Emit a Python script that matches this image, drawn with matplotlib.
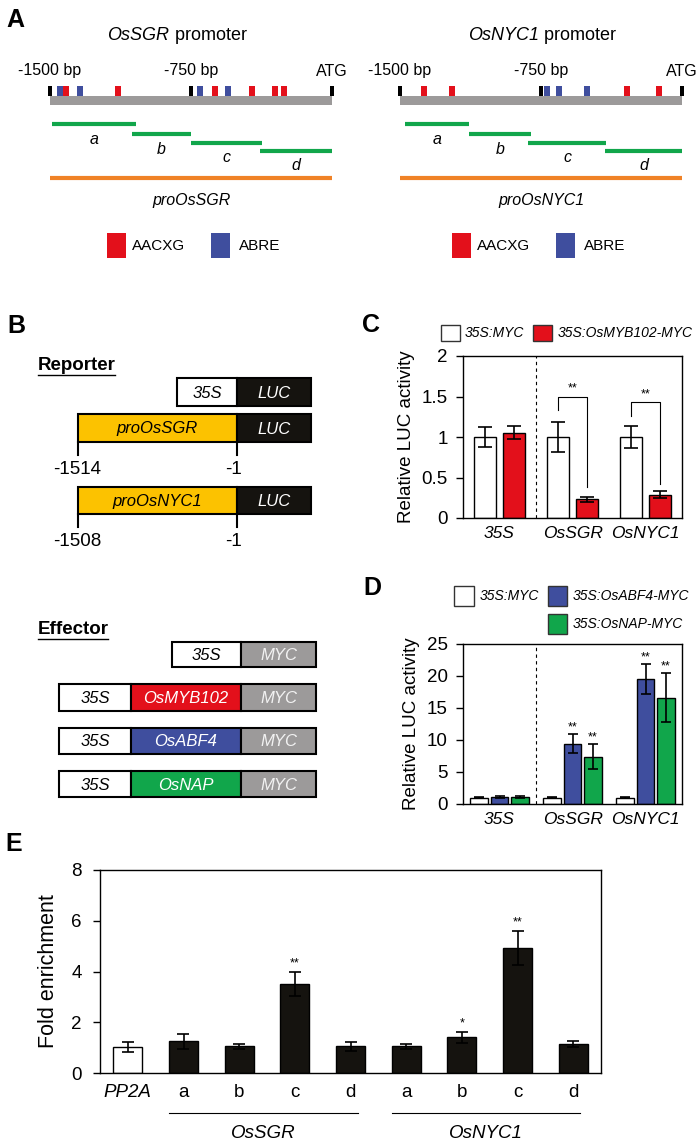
import matplotlib.pyplot as plt
from matplotlib.patches import Rectangle
from matplotlib.transforms import blended_transform_factory

plt.rcParams['font.family'] = ['Liberation Sans', 'DejaVu Sans']

# ---- data ----
# panel A: motif positions (bp upstream of ATG) and ChIP fragments
sgr_aacxg = [-1415, -1138, -622, -426, -303, -255]
sgr_abre = [-1449, -1338, -702, -553]
nyc_aacxg = [-1374, -1222, -293, -122]
nyc_abre = [-716, -654, -505]
sgr_frags = [(-1489, -1043), (-1064, -750), (-750, -372), (-383, 0)]
nyc_frags = [(-1473, -1133), (-1133, -803), (-819, -404), (-410, 0)]
frag_names = ['a', 'b', 'c', 'd']

# panel C
c_groups = ['35S', 'OsSGR', 'OsNYC1']
c_myc = [1.0, 1.0, 1.0]
c_myc_err = [0.12, 0.19, 0.13]
c_myb = [1.05, 0.23, 0.29]
c_myb_err = [0.08, 0.035, 0.04]

# panel D
d_groups = ['35S', 'OsSGR', 'OsNYC1']
d_myc = [1.0, 1.0, 1.0]
d_myc_err = [0.12, 0.12, 0.12]
d_abf4 = [1.1, 9.4, 19.5]
d_abf4_err = [0.2, 1.5, 2.3]
d_nap = [1.1, 7.4, 16.6]
d_nap_err = [0.2, 2.0, 3.8]

# panel E
e_labels = ['PP2A', 'a', 'b', 'c', 'd', 'a', 'b', 'c', 'd']
e_vals = [1.03, 1.25, 1.05, 3.5, 1.05, 1.05, 1.4, 4.91, 1.14]
e_err = [0.2, 0.29, 0.1, 0.47, 0.18, 0.1, 0.2, 0.67, 0.13]
e_stars = ['', '', '', '**', '', '', '*', '**', '']

RED = '#E3101B'
BLUE = '#3F4E9E'
GREEN = '#11A64B'
ORANGE = '#F08226'
GRAY = '#9C9A9A'
YELLOW = '#FCC200'
BLACK = '#15130F'

W, H = 700, 1145
fig = plt.figure(figsize=(W / 100, H / 100), dpi=100)
renderer = fig.canvas.get_renderer()


def px_axes(l, t, r, b):
    return fig.add_axes([l / W, 1 - b / H, (r - l) / W, (b - t) / H])


ov = px_axes(0, 0, W, H)
ov.set_xlim(0, W)
ov.set_ylim(H, 0)
ov.axis('off')

# panel letters
for lab, x, y in [('A', 15, 20), ('B', 16, 326), ('C', 371, 325), ('D', 372, 588), ('E', 14, 844)]:
    ov.text(x, y, lab, fontsize=18, fontweight='bold', ha='center', va='center')


def mixed_title(cx, y, ital, rest, size):
    t1 = ov.text(0, y, ital, style='italic', fontsize=size, va='center')
    t2 = ov.text(0, y, rest, fontsize=size, va='center')
    w1 = t1.get_window_extent(renderer).width
    w2 = t2.get_window_extent(renderer).width
    x0 = cx - (w1 + w2) / 2
    t1.set_x(x0)
    t2.set_x(x0 + w1)


# ---- panel A ----
def promoter(x0, x1, name, aacxg, abre, frags):
    ax = px_axes(x0, 60, x1, 215)
    ax.set_xlim(-1500, 0)
    ax.set_ylim(215, 60)
    ax.axis('off')
    for lbl, p in [('-1500 bp', -1500), ('-750 bp', -750), ('ATG', 0)]:
        ax.text(p, 71, lbl, ha='center', va='center', fontsize=11.5, clip_on=False)
    ax.add_patch(Rectangle((-1500, 96), 1500, 9, fc=GRAY, ec='none', clip_on=False))
    for p in [-1500, -750, 0]:
        ax.add_patch(Rectangle((p - 8, 86), 16, 10, fc='black', ec='none', clip_on=False))
    for p in aacxg:
        ax.add_patch(Rectangle((p - 16, 86), 32, 10, fc=RED, ec='none'))
    for p in abre:
        ax.add_patch(Rectangle((p - 16, 86), 32, 10, fc=BLUE, ec='none'))
    rows = [124, 134, 143, 151]
    for (s, e), r, n in zip(frags, rows, frag_names):
        ax.plot([s, e], [r, r], color=GREEN, lw=3, solid_capstyle='butt', clip_on=False)
        ax.text((s + e) / 2, r + 15, n, ha='center', va='center', fontsize=11.5, style='italic')
    ax.plot([-1500, 0], [178, 178], color=ORANGE, lw=3, solid_capstyle='butt', clip_on=False)
    ax.text(-745, 201, 'pro' + name, ha='center', va='center', fontsize=11.5, style='italic')


promoter(50, 332, 'OsSGR', sgr_aacxg, sgr_abre, sgr_frags)
promoter(400, 682, 'OsNYC1', nyc_aacxg, nyc_abre, nyc_frags)
mixed_title(177, 36, 'OsSGR', ' promoter', 13)
mixed_title(542, 36, 'OsNYC1', ' promoter', 13)

for sx in [0, 345]:
    ov.add_patch(Rectangle((107 + sx, 233), 19, 25, fc=RED, ec='none'))
    ov.text(132 + sx, 246, 'AACXG', va='center', fontsize=11)
    ov.add_patch(Rectangle((211 + sx, 233), 19, 25, fc=BLUE, ec='none'))
    ov.text(239 + sx, 246, 'ABRE', va='center', fontsize=11)


# ---- panel B ----
def construct(y0, y1, parts):
    for x0, x1, fc, txt, tc in parts:
        ov.add_patch(Rectangle((x0, y0), x1 - x0, y1 - y0, fc=fc, ec='black', lw=1.5))
        ov.text((x0 + x1) / 2, (y0 + y1) / 2 + 1, txt, ha='center', va='center',
                fontsize=12, style='italic', color=tc)


ov.text(38, 366, 'Reporter', fontsize=13.5, fontweight='bold', va='center')
ov.plot([38, 115], [375, 375], color='black', lw=1)
construct(378, 406, [(177, 237, 'white', '35S', 'black'), (237, 311, BLACK, 'LUC', 'white')])
construct(414, 442, [(78, 237, YELLOW, 'proOsSGR', 'black'), (237, 311, BLACK, 'LUC', 'white')])
construct(487, 514, [(78, 237, YELLOW, 'proOsNYC1', 'black'), (237, 311, BLACK, 'LUC', 'white')])
for yb, num in [(442, '-1514'), (514, '-1508')]:
    ov.plot([78, 78], [yb, yb + 13], color='black', lw=1.5)
    ov.plot([237, 237], [yb, yb + 13], color='black', lw=1.5)
    ov.text(77, yb + 28, num, ha='center', va='center', fontsize=13.5)
    ov.text(233, yb + 28, '-1', ha='center', va='center', fontsize=13.5)

ov.text(38, 630, 'Effector', fontsize=13.5, fontweight='bold', va='center')
ov.plot([38, 108], [639, 639], color='black', lw=1)
construct(642, 667, [(172, 241, 'white', '35S', 'black'), (241, 316, GRAY, 'MYC', '#F2F2F2')])
for (y0, y1), name, col in [((684, 711), 'OsMYB102', RED), ((728, 754), 'OsABF4', BLUE),
                            ((771, 797), 'OsNAP', GREEN)]:
    construct(y0, y1, [(59, 131, 'white', '35S', 'black'), (131, 241, col, name, 'white'),
                       (241, 316, GRAY, 'MYC', '#F2F2F2')])


# ---- charts ----
def style_chart(ax, size, pad):
    for s in ax.spines.values():
        s.set_linewidth(1.0)
    ax.tick_params(axis='y', direction='out', length=5, width=1, labelsize=size, pad=pad)
    ax.tick_params(axis='x', length=0, labelsize=12.5, pad=6)


# panel C
ax_c = px_axes(463, 356, 682, 518)
xc = range(len(c_groups))
ax_c.bar([i - 0.2 for i in xc], c_myc, 0.31, color='white', edgecolor='black', lw=1,
         yerr=c_myc_err, capsize=5, error_kw=dict(lw=1.2, capthick=1.2))
ax_c.bar([i + 0.2 for i in xc], c_myb, 0.31, color=RED, edgecolor='black', lw=1,
         yerr=c_myb_err, capsize=5, error_kw=dict(lw=1.2, capthick=1.2))
ax_c.axvline(0.5, color='black', lw=0.8, ls=(0, (3, 3)))
ax_c.set_xlim(-0.5, 2.5)
ax_c.set_ylim(0, 2)
ax_c.set_yticks([0, 0.5, 1, 1.5, 2], ['0', '0.5', '1', '1.5', '2'])
ax_c.set_xticks(list(xc), c_groups, style='italic')
ax_c.set_ylabel('Relative LUC activity', fontsize=13.5, labelpad=5)
style_chart(ax_c, 13.5, 6)
for i, top, lleg, rleg in [(1, 1.5, 1.33, 0.38), (2, 1.43, 1.26, 0.42)]:
    ax_c.plot([i - 0.2, i - 0.2, i + 0.2, i + 0.2], [lleg, top, top, rleg], color='black', lw=0.8)
    ax_c.text(i, top + 0.02, '**', ha='center', va='bottom', fontsize=9)

ov.add_patch(Rectangle((441, 325), 19, 16, fc='white', ec='#333333', lw=1))
ov.text(465, 333, '35S:MYC', va='center', fontsize=10, style='italic')
ov.add_patch(Rectangle((533, 325), 19, 16, fc=RED, ec='#333333', lw=1))
ov.text(558, 333, '35S:OsMYB102-MYC', va='center', fontsize=10, style='italic')

# panel D
ax_d = px_axes(463, 644, 682, 804)
xd = range(len(d_groups))
ek = dict(lw=1.2, capthick=1.2)
ax_d.bar([i - 0.28 for i in xd], d_myc, 0.24, color='white', edgecolor='black', lw=1,
         yerr=d_myc_err, capsize=3.5, error_kw=ek)
ax_d.bar(list(xd), d_abf4, 0.24, color=BLUE, edgecolor='black', lw=1,
         yerr=d_abf4_err, capsize=3.5, error_kw=ek)
ax_d.bar([i + 0.28 for i in xd], d_nap, 0.24, color=GREEN, edgecolor='black', lw=1,
         yerr=d_nap_err, capsize=3.5, error_kw=ek)
ax_d.axvline(0.5, color='black', lw=0.8, ls=(0, (3, 3)))
ax_d.set_xlim(-0.5, 2.5)
ax_d.set_ylim(0, 25)
ax_d.set_yticks(range(0, 26, 5))
ax_d.set_xticks(list(xd), d_groups, style='italic')
ax_d.set_ylabel('Relative LUC activity', fontsize=13.5, labelpad=5)
style_chart(ax_d, 13.5, 6)
for i in [1, 2]:
    ax_d.text(i, d_abf4[i] + d_abf4_err[i] + 0.1, '**', ha='center', va='bottom', fontsize=9)
    ax_d.text(i + 0.28, d_nap[i] + d_nap_err[i] + 0.1, '**', ha='center', va='bottom', fontsize=9)

ov.add_patch(Rectangle((454, 586), 20, 20, fc='white', ec='#333333', lw=1))
ov.text(480, 596, '35S:MYC', va='center', fontsize=10, style='italic')
ov.add_patch(Rectangle((548, 586), 19, 20, fc=BLUE, ec='#333333', lw=1))
ov.text(573, 596, '35S:OsABF4-MYC', va='center', fontsize=10, style='italic')
ov.add_patch(Rectangle((548, 614), 19, 20, fc=GREEN, ec='#333333', lw=1))
ov.text(573, 624, '35S:OsNAP-MYC', va='center', fontsize=10, style='italic')

# panel E
ax_e = px_axes(100, 870, 601, 1073)
xe = list(range(len(e_labels)))
e_colors = ['white'] + [BLACK] * (len(e_labels) - 1)
ax_e.bar(xe, e_vals, 0.52, color=e_colors, edgecolor='black', lw=1,
         yerr=e_err, capsize=4, error_kw=dict(lw=1.2, capthick=1.2, ecolor='black'))
for x, v, er, s in zip(xe, e_vals, e_err, e_stars):
    if s:
        ax_e.text(x, v + er + 0.1, s, ha='center', va='bottom', fontsize=9)
ax_e.set_xlim(-0.5, 8.5)
ax_e.set_ylim(0, 8)
ax_e.set_yticks(range(0, 9, 2))
ax_e.set_xticks(xe, e_labels)
ax_e.get_xticklabels()[0].set_style('italic')
ax_e.set_ylabel('Fold enrichment', fontsize=15.5, labelpad=9)
style_chart(ax_e, 13.5, 8)
ax_e.tick_params(axis='x', labelsize=13.5, pad=8)
tr = blended_transform_factory(ax_e.transData, ax_e.transAxes)
for first, last, name in [(1, 4, 'OsSGR'), (5, 8, 'OsNYC1')]:
    ax_e.plot([first - 0.26, last + 0.13], [-0.197, -0.197], transform=tr, color='black',
              lw=0.8, clip_on=False)
    ax_e.text((first + last) / 2 - 0.06, -0.30, name, transform=tr, ha='center', va='center',
              fontsize=13.5, style='italic')

fig.savefig('out.png', dpi=100)
